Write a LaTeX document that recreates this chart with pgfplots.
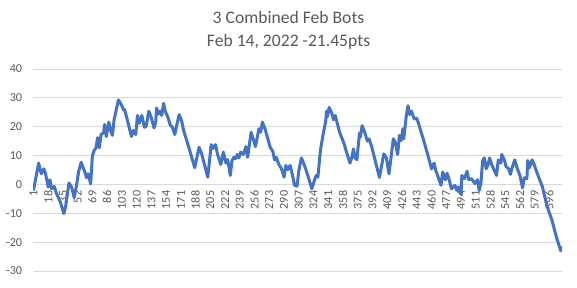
\documentclass[border=0pt]{standalone}
\usepackage{fontspec}
\setmainfont{Carlito}
\usepackage{pgfplots}
\pgfplotsset{compat=1.18}
\definecolor{txt}{HTML}{595959}
\definecolor{grd}{HTML}{D9D9D9}
\definecolor{ln}{HTML}{4472C4}
\begin{document}
\begin{tikzpicture}
\begin{axis}[
  at={(24.75pt,12pt)}, anchor=south west,
  scale only axis, width=396.75pt, height=151.5pt,
  xmin=0.5, xmax=610.5, ymin=-30, ymax=40,
  ytick={-30,-20,...,40},
  xtick={1,18,...,596},
  axis x line*=middle, axis y line*=left,
  axis line style={draw=none},
  ymajorgrids, grid style={grd, line width=0.75pt},
  major tick length=0pt,
  tick style={draw=none},
  /pgf/number format/assume math mode=true,
  ticklabel style={font=\fontsize{9.1}{10}\selectfont, text=txt},
  yticklabel style={anchor=east, inner sep=0pt, xshift=-8pt},
  xticklabel style={rotate=90, anchor=east, inner sep=0pt},
  xticklabel shift=4.5pt,
]
\addplot[ln, line width=2.25pt, line join=round, no markers] coordinates {
(1,-2.1) (7,7.4) (10,3.7) (13,5.4) (15,3.7) (18,-0.9) (20,1.6) (22,-1.5) (25,-0.7) (27,-2.7)
(32,-6.1) (36,-10.1) (38,-7.8) (42,0.5) (45,-0.9) (48,-4.6) (51,0.2) (53,4.3) (56,7.7) (61,3.7)
(62,2.3) (64,3.7) (67,0.2) (69,10.0) (71,11.8) (73,12.5) (75,16.2) (77,12.7) (79,17.3) (82,18.0)
(83,20.8) (85,16.6) (88,21.6) (90,18.7) (92,17.0) (94,22.4) (99,29.3) (102,27.9) (105,25.8) (106,26.0)
(109,22.7) (114,16.6) (116,18.7) (119,17.3) (121,23.9) (123,21.2) (126,23.9) (129,19.8) (131,20.2) (134,25.4)
(137,23.1) (140,19.6) (142,21.5) (143,26.5) (145,24.4) (147,25.4) (149,23.9) (151,28.1) (153,25.4) (156,23.3)
(159,20.4) (161,20.0) (164,17.3) (166,20.2) (169,24.2) (172,21.9) (174,18.9) (181,12.0) (187,5.8) (192,12.9)
(195,10.6) (202,2.5) (206,13.8) (208,12.5) (211,13.8) (213,10.8) (217,6.9) (220,11.2) (223,7.4) (225,8.6)
(228,3.1) (230,8.3) (232,9.4) (234,8.9) (236,10.4) (238,9.2) (240,11.2) (243,10.4) (246,13.1) (248,9.4)
(252,18.1) (255,15.2) (257,13.1) (261,19.3) (263,18.1) (265,21.6) (268,19.3) (274,12.9) (277,11.5) (279,8.5)
(281,9.4) (284,6.9) (287,5.5) (290,2.5) (292,6.6) (294,5.1) (297,6.6) (300,2.8) (302,-0.3) (305,-0.6)
(307,4.8) (310,9.2) (314,6.2) (318,2.5) (322,-1.5) (325,1.4) (327,3.1) (329,2.5) (332,12.0) (335,17.3)
(338,21.9) (339,25.4) (340,23.5) (342,26.7) (345,24.7) (347,22.4) (349,23.9) (351,21.6) (354,18.1) (359,14.3)
(362,11.2) (366,7.4) (368,9.2) (370,12.3) (372,9.2) (374,8.6) (377,17.8) (378,16.4) (380,20.4) (383,18.1)
(386,15.0) (388,15.8) (391,13.1) (400,2.4) (405,10.6) (408,9.2) (411,3.7) (416,15.8) (418,14.8) (421,10.4)
(423,17.0) (425,15.2) (427,19.3) (428,15.8) (431,23.9) (433,27.3) (435,24.2) (437,25.4) (440,22.7) (443,23.0)
(445,21.2) (451,15.2) (456,10.0) (460,5.4) (463,7.4) (465,4.8) (471,-0.3) (473,4.3) (476,1.6) (478,3.9)
(480,2.0) (483,-1.5) (487,-0.3) (489,-2.0) (491,-0.9) (494,-3.5) (495,3.1) (498,2.0) (501,4.6) (503,1.6)
(506,2.0) (508,1.2) (510,0.3) (513,1.6) (515,-2.1) (517,0.5) (519,8.3) (521,9.2) (523,5.4) (525,6.6)
(527,9.2) (529,7.2) (531,5.8) (535,3.1) (537,8.5) (540,7.4) (541,10.4) (544,8.5) (546,6.2) (549,5.4)
(551,3.5) (553,5.8) (556,8.5) (559,5.4) (562,3.1) (565,-1.2) (567,2.3) (570,2.0) (571,8.3) (573,5.8)
(576,8.5) (578,7.2) (581,4.6) (588,-0.9) (593,-7.3) (599,-12.5) (604,-18.2) (609,-23.0) (610,-21.45)
};
\end{axis}
\node[anchor=base, text=txt, font=\fontsize{13.2}{16}\selectfont] at (216.4pt,198pt) {3 Combined Feb Bots};
\node[anchor=base, text=txt, font=\fontsize{13.2}{16}\selectfont] at (216.4pt,180.75pt) {Feb 14, 2022 -21.45pts};
\pgfresetboundingbox
\path (0,0) rectangle (432.75pt,215.25pt);
\end{tikzpicture}
\end{document}
